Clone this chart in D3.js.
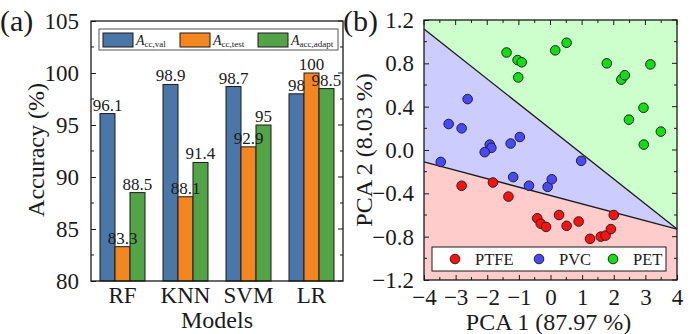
<!DOCTYPE html>
<html><head><meta charset="utf-8">
<script src="https://cdn.jsdelivr.net/npm/d3@7"></script>
<style>body{margin:0;background:#fff}svg{display:block;font-family:"Liberation Serif","Times New Roman",serif}</style>
</head><body><svg id="c" width="691" height="334"></svg>
<script>
// ---- Panel (a) data ----
const models = ["RF","KNN","SVM","LR"];
const seriesNames = ["val","test","adapt"];
const seriesSub = ["cc,val","cc,test","acc,adapt"];
const accVal = [96.1, 98.9, 98.7, 98];
const accTest = [83.3, 88.1, 92.9, 100];
const accAdapt = [88.5, 91.4, 95, 98.5];
const barColors = ["#4a76a8","#f5861f","#52a447"];
const accTicks = [80,85,90,95,100,105];

// ---- Panel (b) data ----
const ptfe = [[-2.81,-0.33],[-1.82,-0.30],[-1.33,-0.43],[-0.42,-0.63],[-0.31,-0.68],[-0.14,-0.71],[0.27,-0.60],[0.51,-0.70],[0.89,-0.66],[1.25,-0.82],[1.59,-0.80],[1.74,-0.79],[1.91,-0.73],[2.00,-0.60]];
const pvc = [[-2.62,0.47],[-3.22,0.24],[-2.81,0.20],[-1.92,0.05],[-1.87,0.02],[-2.08,-0.02],[-1.26,0.06],[-0.97,0.12],[0.97,-0.10],[-3.47,-0.11],[-1.18,-0.25],[-0.68,-0.33],[-0.09,-0.34],[0.04,-0.27]];
const pet = [[-1.39,0.90],[-1.04,0.83],[-0.91,0.81],[-1.02,0.67],[0.15,0.92],[0.51,0.99],[1.78,0.80],[2.24,0.65],[2.35,0.69],[3.16,0.79],[2.94,0.39],[2.48,0.28],[3.49,0.17],[2.95,0.05]];
const classNames = ["PTFE","PVC","PET"];
const classColors = ["#ff1010","#4848ff","#10e010"];
const regionColors = ["#ffcccc","#ccccff","#ccffcc"];
const boundaryPetPvc = [[-4,1.117],[4,-0.73]];
const boundaryPvcPtfe = [[-4,-0.11],[4,-0.73]];
const pcaXTicks = [-4,-3,-2,-1,0,1,2,3,4];
const pcaYTicks = [-1.2,-0.8,-0.4,0.0,0.4,0.8,1.2];

const svg = d3.select("#c");
const ink = "#1a1a1a";

// ================= Panel (a) =================
const A = {l:91, r:343, t:21, b:281};
const x0 = d3.scaleBand().domain(models).range([A.l,A.r]).paddingInner(0.286).paddingOuter(0.143);
const x1 = d3.scaleBand().domain(seriesNames).range([0,x0.bandwidth()]);
const ya = d3.scaleLinear().domain([80,105]).range([A.b,A.t]);
const seriesVals = [accVal, accTest, accAdapt];

const ga = svg.append("g");
models.forEach((m,i)=>{
  seriesNames.forEach((s,j)=>{
    const v = seriesVals[j][i];
    ga.append("rect").attr("x",x0(m)+x1(s)).attr("y",ya(v))
      .attr("width",x1.bandwidth()).attr("height",ya(80)-ya(v))
      .attr("fill",barColors[j]).attr("stroke",ink).attr("stroke-width",1);
  });
});
models.forEach((m,i)=>{
  seriesNames.forEach((s,j)=>{
    const v = seriesVals[j][i];
    ga.append("text").attr("x",x0(m)+x1(s)+x1.bandwidth()/2).attr("y",ya(v)-3)
      .attr("text-anchor","middle").attr("font-size",17).attr("fill",ink).text(String(v));
  });
});
// frame
ga.append("rect").attr("x",A.l).attr("y",A.t).attr("width",A.r-A.l).attr("height",A.b-A.t)
  .attr("fill","none").attr("stroke",ink).attr("stroke-width",1.3);
// y axis left & right (inward ticks)
const yAxL = d3.axisLeft(ya).tickValues(accTicks).tickSize(-5).tickPadding(12).tickFormat(d3.format("d"));
const gl = ga.append("g").attr("transform",`translate(${A.l},0)`).call(yAxL);
gl.select(".domain").remove();
gl.selectAll("text").attr("font-size",23).attr("fill",ink).attr("font-family","Liberation Serif");
gl.selectAll("line").attr("stroke",ink);
const minorA = d3.range(82.5,105,5);
minorA.forEach(v=>{
  ga.append("line").attr("x1",A.l).attr("x2",A.l+3).attr("y1",ya(v)).attr("y2",ya(v)).attr("stroke",ink);
  ga.append("line").attr("x1",A.r).attr("x2",A.r-3).attr("y1",ya(v)).attr("y2",ya(v)).attr("stroke",ink);
});
accTicks.forEach(v=>{
  ga.append("line").attr("x1",A.r).attr("x2",A.r-5).attr("y1",ya(v)).attr("y2",ya(v)).attr("stroke",ink);
});
// x axis labels
const xAx = d3.axisBottom(x0).tickSize(0).tickPadding(6);
const gx = ga.append("g").attr("transform",`translate(0,${A.b})`).call(xAx);
gx.select(".domain").remove();
gx.selectAll("text").attr("font-size",23).attr("fill",ink).attr("font-family","Liberation Serif");
ga.append("text").attr("x",(A.l+A.r)/2).attr("y",328).attr("text-anchor","middle").attr("font-size",24).attr("fill",ink).text("Models");
ga.append("text").attr("transform","translate(44,150) rotate(-90)").attr("text-anchor","middle").attr("font-size",24).attr("fill",ink).text("Accuracy (%)");
ga.append("text").attr("x",0).attr("y",31).attr("font-size",30).attr("fill",ink).text("(a)");
// legend (a)
ga.append("rect").attr("x",99).attr("y",29).attr("width",239).attr("height",21).attr("fill","#fff").attr("stroke","#555").attr("stroke-width",1);
const legX = [103,180,258];
seriesNames.forEach((s,j)=>{
  ga.append("rect").attr("x",legX[j]).attr("y",33).attr("width",30).attr("height",14).attr("fill",barColors[j]).attr("stroke",ink);
  const t = ga.append("text").attr("x",legX[j]+33).attr("y",45).attr("font-size",14).attr("fill",ink);
  t.append("tspan").attr("font-style","italic").text("A");
  t.append("tspan").attr("font-size",9).attr("dy",2).text(seriesSub[j]);
});

// ================= Panel (b) =================
const B = {l:424, r:677, t:20, b:280};
const xb = d3.scaleLinear().domain([-4,4]).range([B.l,B.r]);
const yb = d3.scaleLinear().domain([-1.2,1.2]).range([B.b,B.t]);
const gb = svg.append("g");
const poly = pts => pts.map(p=>[xb(p[0]),yb(p[1])].join(",")).join(" ");
const [p1a,p1b] = boundaryPetPvc, [p2a,p2b] = boundaryPvcPtfe;
gb.append("polygon").attr("points",poly([[-4,1.2],[4,1.2],p1b,p1a])).attr("fill",regionColors[2]);
gb.append("polygon").attr("points",poly([p1a,p1b,p2b,p2a])).attr("fill",regionColors[1]);
gb.append("polygon").attr("points",poly([p2a,p2b,[4,-1.2],[-4,-1.2]])).attr("fill",regionColors[0]);
[boundaryPetPvc,boundaryPvcPtfe].forEach(b=>{
  gb.append("line").attr("x1",xb(b[0][0])).attr("y1",yb(b[0][1])).attr("x2",xb(b[1][0])).attr("y2",yb(b[1][1]))
    .attr("stroke",ink).attr("stroke-width",1.3);
});
[ptfe,pvc,pet].forEach((arr,k)=>{
  gb.selectAll(null).data(arr).enter().append("circle")
    .attr("cx",d=>xb(d[0])).attr("cy",d=>yb(d[1])).attr("r",4.8)
    .attr("fill",classColors[k]).attr("stroke","#222").attr("stroke-width",1);
});
gb.append("rect").attr("x",B.l).attr("y",B.t).attr("width",B.r-B.l).attr("height",B.b-B.t)
  .attr("fill","none").attr("stroke",ink).attr("stroke-width",1.3);
const minus = d3.format("");
const fmtX = d => (d<0?"\u2212":"")+Math.abs(d);
const fmtY = d => (d<0?"\u2212":"")+Math.abs(d).toFixed(1);
const gxb = gb.append("g").attr("transform",`translate(0,${B.b})`).call(d3.axisBottom(xb).tickValues(pcaXTicks).tickSize(-5).tickPadding(9).tickFormat(fmtX));
const gyb = gb.append("g").attr("transform",`translate(${B.l},0)`).call(d3.axisLeft(yb).tickValues(pcaYTicks).tickSize(-5).tickPadding(10).tickFormat(fmtY));
[gxb,gyb].forEach(g=>{
  g.select(".domain").remove();
  g.selectAll("text").attr("font-size",23).attr("fill",ink).attr("font-family","Liberation Serif");
  g.selectAll("line").attr("stroke",ink);
});
pcaXTicks.forEach(v=>{
  gb.append("line").attr("x1",xb(v)).attr("x2",xb(v)).attr("y1",B.t).attr("y2",B.t+5).attr("stroke",ink);
});
d3.range(-3.5,4,1).forEach(v=>{
  gb.append("line").attr("x1",xb(v)).attr("x2",xb(v)).attr("y1",B.t).attr("y2",B.t+3).attr("stroke",ink);
  gb.append("line").attr("x1",xb(v)).attr("x2",xb(v)).attr("y1",B.b).attr("y2",B.b-3).attr("stroke",ink);
});
pcaYTicks.forEach(v=>{
  gb.append("line").attr("x1",B.r).attr("x2",B.r-5).attr("y1",yb(v)).attr("y2",yb(v)).attr("stroke",ink);
});
[-1.0,-0.6,-0.2,0.2,0.6,1.0].forEach(v=>{
  gb.append("line").attr("x1",B.l).attr("x2",B.l+3).attr("y1",yb(v)).attr("y2",yb(v)).attr("stroke",ink);
  gb.append("line").attr("x1",B.r).attr("x2",B.r-3).attr("y1",yb(v)).attr("y2",yb(v)).attr("stroke",ink);
});
gb.append("text").attr("x",(B.l+B.r)/2-2).attr("y",330).attr("text-anchor","middle").attr("font-size",24).attr("fill",ink).text("PCA 1 (87.97 %)");
gb.append("text").attr("transform","translate(372,150) rotate(-90)").attr("text-anchor","middle").attr("font-size",24).attr("fill",ink).text("PCA 2 (8.03 %)");
gb.append("text").attr("x",343).attr("y",31).attr("font-size",30).attr("fill",ink).text("(b)");
// legend (b)
gb.append("rect").attr("x",432).attr("y",247).attr("width",234).attr("height",24).attr("fill","#fff").attr("stroke",ink).attr("stroke-width",1);
const legBX = [455,539,613];
classNames.forEach((n,k)=>{
  gb.append("circle").attr("cx",legBX[k]).attr("cy",259).attr("r",4.8).attr("fill",classColors[k]).attr("stroke","#222");
  gb.append("text").attr("x",legBX[k]+20).attr("y",265).attr("font-size",16.5).attr("fill",ink).text(n);
});
</script></body></html>
